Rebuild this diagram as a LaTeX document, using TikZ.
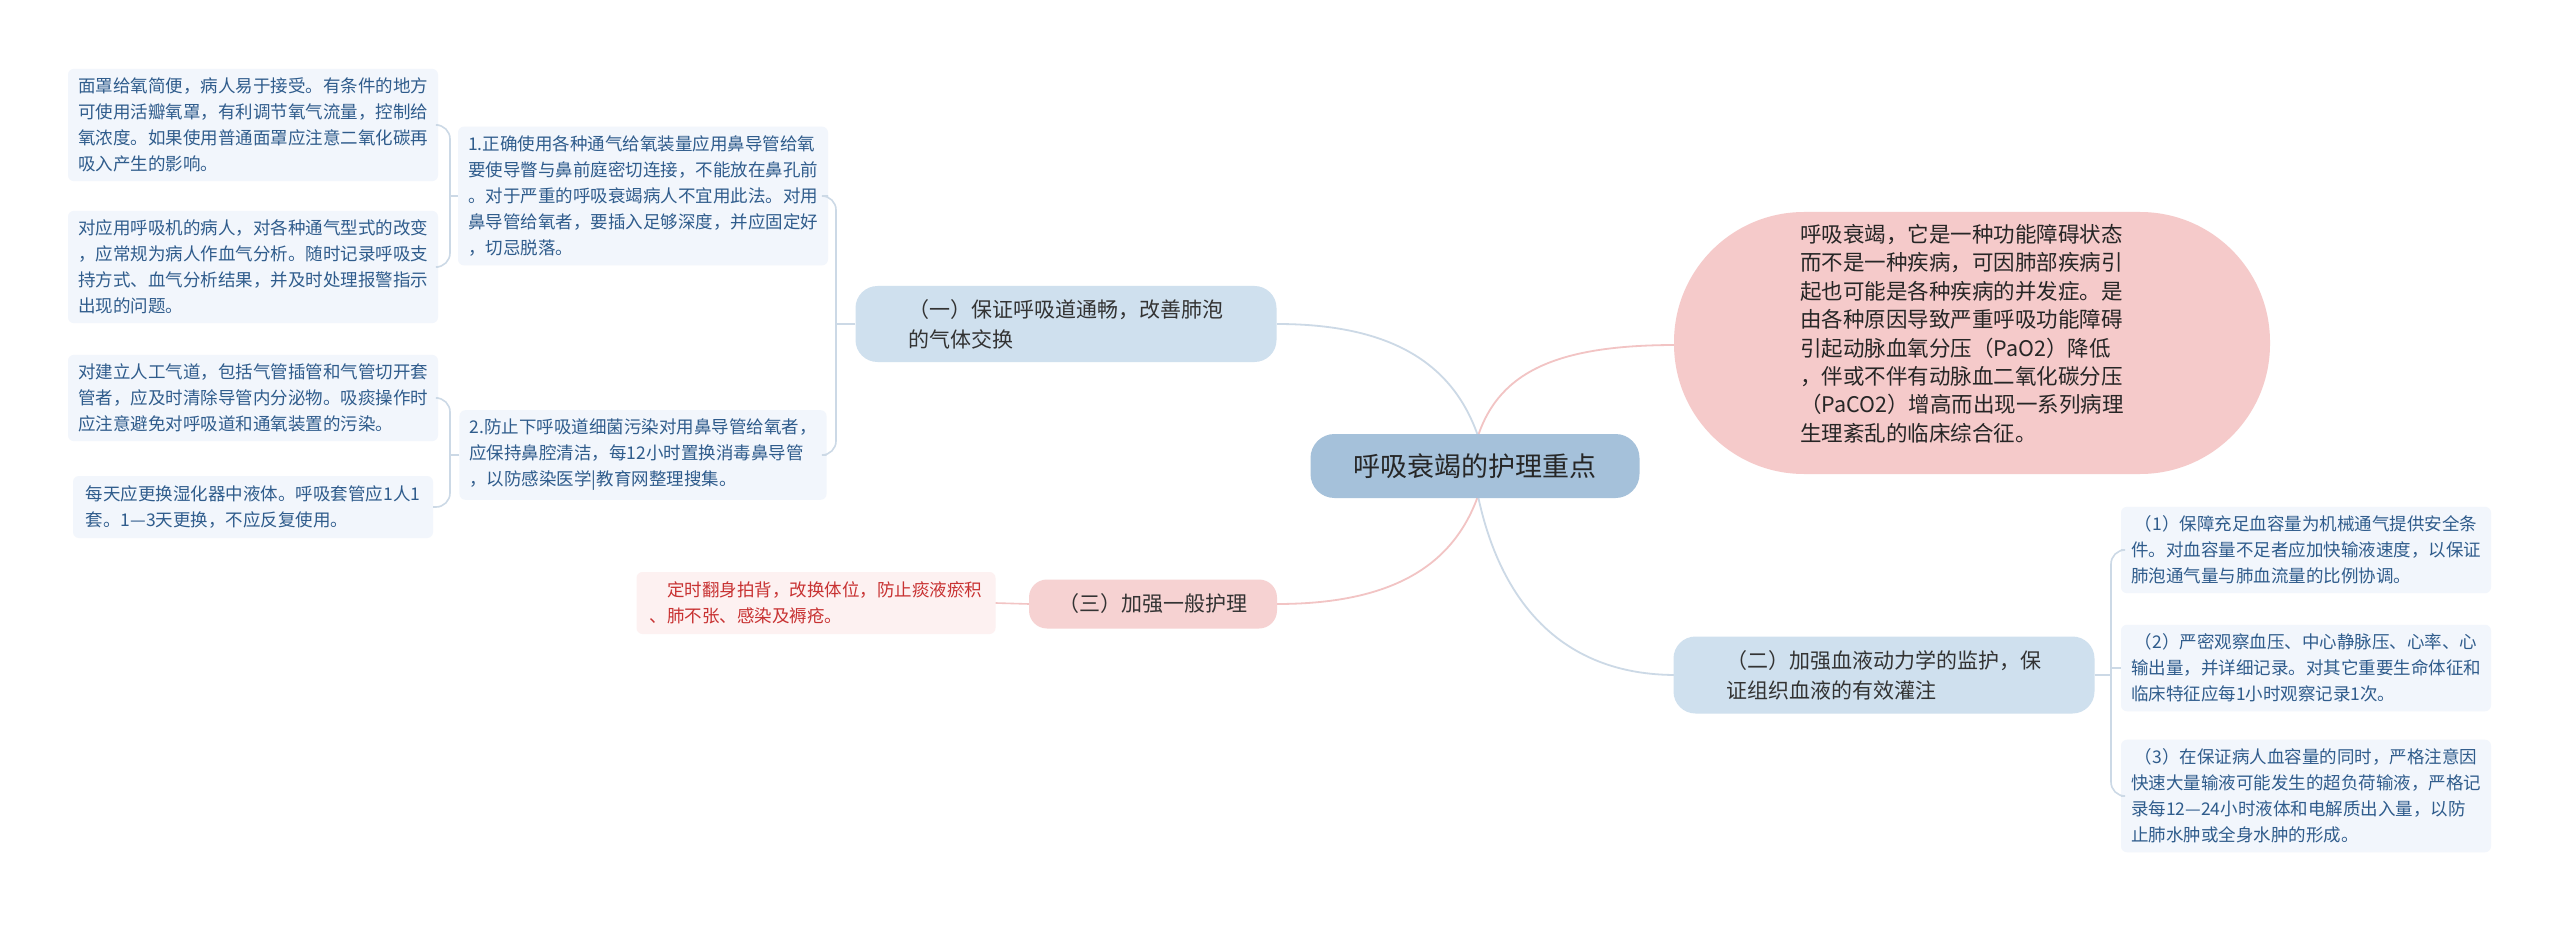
\documentclass[tikz,border=0pt]{standalone}
\usepackage{fontspec}
\setmainfont{Noto Sans CJK SC}
\definecolor{leafbg}{HTML}{F2F6FC}
\definecolor{leaftx}{HTML}{2F5C8C}
\definecolor{linec}{HTML}{CCD9E6}
\definecolor{pinkl}{HTML}{F2C4C4}
\definecolor{pinkbg}{HTML}{F5CACA}
\definecolor{cenbg}{HTML}{A5C1DA}
\definecolor{brbg}{HTML}{CFE0EE}
\definecolor{redbg}{HTML}{FDF1F1}
\definecolor{redtx}{HTML}{C83232}
\begin{document}
\begin{tikzpicture}[x=1pt,y=-1pt,
  leaf/.style={fill=leafbg,rounded corners=6pt,inner xsep=10pt,inner ysep=9pt,font=\fontsize{17.5}{26}\selectfont,text=leaftx,align=left,anchor=center},
  branch/.style={fill=brbg,rounded corners=22pt,inner xsep=20pt,font=\fontsize{21}{30}\selectfont,text=black!80,align=left},
  br/.style={draw=linec,line width=1.6pt,rounded corners=14pt},
  ]
\useasboundingbox (0,0) rectangle (2560,925);
\fill[white] (0,0) rectangle (2560,925);
% connectors from center
\coordinate (ct) at (1478,436);
\coordinate (cb) at (1478,496);
\draw[pinkl,line width=1.8pt] (ct) .. controls (1500,370) and (1560,345) .. (1676,345);
\draw[linec,line width=1.8pt] (ct) .. controls (1455,370) and (1400,324) .. (1277,324);
\draw[pinkl,line width=1.8pt] (cb) .. controls (1455,560) and (1400,604) .. (1277,604);
\draw[linec,line width=1.8pt] (cb) .. controls (1500,600) and (1560,675) .. (1676,675);
% center
\node[fill=cenbg,rounded corners=24pt,minimum width=329pt,minimum height=64pt,font=\fontsize{27}{32}\selectfont,text=black!85] (c) at (1475,466) {呼吸衰竭的护理重点};
% pink definition
\fill[pinkbg] (1674,212) rectangle (2270,474) [rounded corners=131pt] ;
\fill[white] (1674,212) rectangle (2270,474);
\fill[pinkbg,rounded corners=130pt] (1674,212) rectangle (2270,474);
\node[anchor=north west,inner sep=0pt,font=\fontsize{21.5}{28.4}\selectfont,align=left,text=black!85] (def) at (1800,224) {呼吸衰竭，它是一种功能障碍状态\\而不是一种疾病，可因肺部疾病引\\起也可能是各种疾病的并发症。是\\由各种原因导致严重呼吸功能障碍\\引起动脉血氧分压（PaO2）降低\\，伴或不伴有动脉血二氧化碳分压\\（PaCO2）增高而出现一系列病理\\生理紊乱的临床综合征。};
% branches
\node[branch,minimum width=421pt,minimum height=76pt] (b1) at (1066,324) {（一）保证呼吸道通畅，改善肺泡\\的气体交换};
\node[branch,fill=pinkbg!85,minimum width=248pt,minimum height=49pt,rounded corners=18pt] (b3) at (1153,604) {（三）加强一般护理};
\node[branch,minimum width=421pt,minimum height=77pt] (b2) at (1884,675) {（二）加强血液动力学的监护，保\\证组织血液的有效灌注};
% left leaves
\node[leaf,minimum width=356pt,minimum height=130pt] (l1) at (643,196) {1.正确使用各种通气给氧装量应用鼻导管给氧\\要使导瞥与鼻前庭密切连接，不能放在鼻孔前\\。对于严重的呼吸衰竭病人不宜用此法。对用\\鼻导管给氧者，要插入足够深度，并应固定好\\，切忌脱落。};
\node[leaf,minimum width=356pt,minimum height=77pt] (l2) at (643,455) {2.防止下呼吸道细菌污染对用鼻导管给氧者，\\应保持鼻腔清洁，每12小时置换消毒鼻导管\\，以防感染医学|教育网整理搜集。};
\node[leaf,minimum width=360pt,minimum height=104pt] (f1) at (253,125) {面罩给氧简便，病人易于接受。有条件的地方\\可使用活瓣氧罩，有利调节氧气流量，控制给\\氧浓度。如果使用普通面罩应注意二氧化碳再\\吸入产生的影响。};
\node[leaf,minimum width=360pt,minimum height=101pt] (f2) at (253,267) {对应用呼吸机的病人，对各种通气型式的改变\\，应常规为病人作血气分析。随时记录呼吸支\\持方式、血气分析结果，并及时处理报警指示\\出现的问题。};
\node[leaf,minimum width=360pt,minimum height=80pt] (f3) at (253,398) {对建立人工气道，包括气管插管和气管切开套\\管者，应及时清除导管内分泌物。吸痰操作时\\应注意避免对呼吸道和通氧装置的污染。};
\node[leaf,minimum width=360pt,minimum height=62pt] (f4) at (253,507) {每天应更换湿化器中液体。呼吸套管应1人1\\套。1—3天更换，不应反复使用。};
% red leaf
\node[leaf,fill=redbg,text=redtx,minimum width=359pt,minimum height=62pt] (r1) at (816,603) {\quad 定时翻身拍背，改换体位，防止痰液瘀积\\、肺不张、感染及褥疮。};
% right leaves
\node[leaf,minimum width=358pt,minimum height=82pt] (g1) at (2306,550) {\ （1）保障充足血容量为机械通气提供安全条\\件。对血容量不足者应加快输液速度，以保证\\肺泡通气量与肺血流量的比例协调。};
\node[leaf,minimum width=358pt,minimum height=85pt] (g2) at (2306,668) {\ （2）严密观察血压、中心静脉压、心率、心\\输出量，并详细记录。对其它重要生命体征和\\临床特征应每1小时观察记录1次。};
\node[leaf,minimum width=358pt,minimum height=106pt] (g3) at (2306,796) {\ （3）在保证病人血容量的同时，严格注意因\\快速大量输液可能发生的超负荷输液，严格记\\录每12—24小时液体和电解质出入量，以防\\止肺水肿或全身水肿的形成。};
% brackets
\draw[br] (b1.west) -- (836,324);
\draw[br] (l1.east) -- (836,196) -- (836,455) -- (l2.east);
\draw[br] (l1.west) -- (450,196);
\draw[br] (f1.east) -- (450,125) -- (450,267) -- (f2.east);
\draw[br] (l2.west) -- (450,455);
\draw[br] (f3.east) -- (450,398) -- (450,507) -- (f4.east);
\draw[pinkl,line width=1.6pt] (b3.west) -- (r1.east);
\draw[br] (b2.east) -- (2111,675);
\draw[br] (g1.west) -- (2111,550) -- (2111,796) -- (g3.west);
\draw[br] (g2.west) -- (2111,668);
\end{tikzpicture}
\end{document}
